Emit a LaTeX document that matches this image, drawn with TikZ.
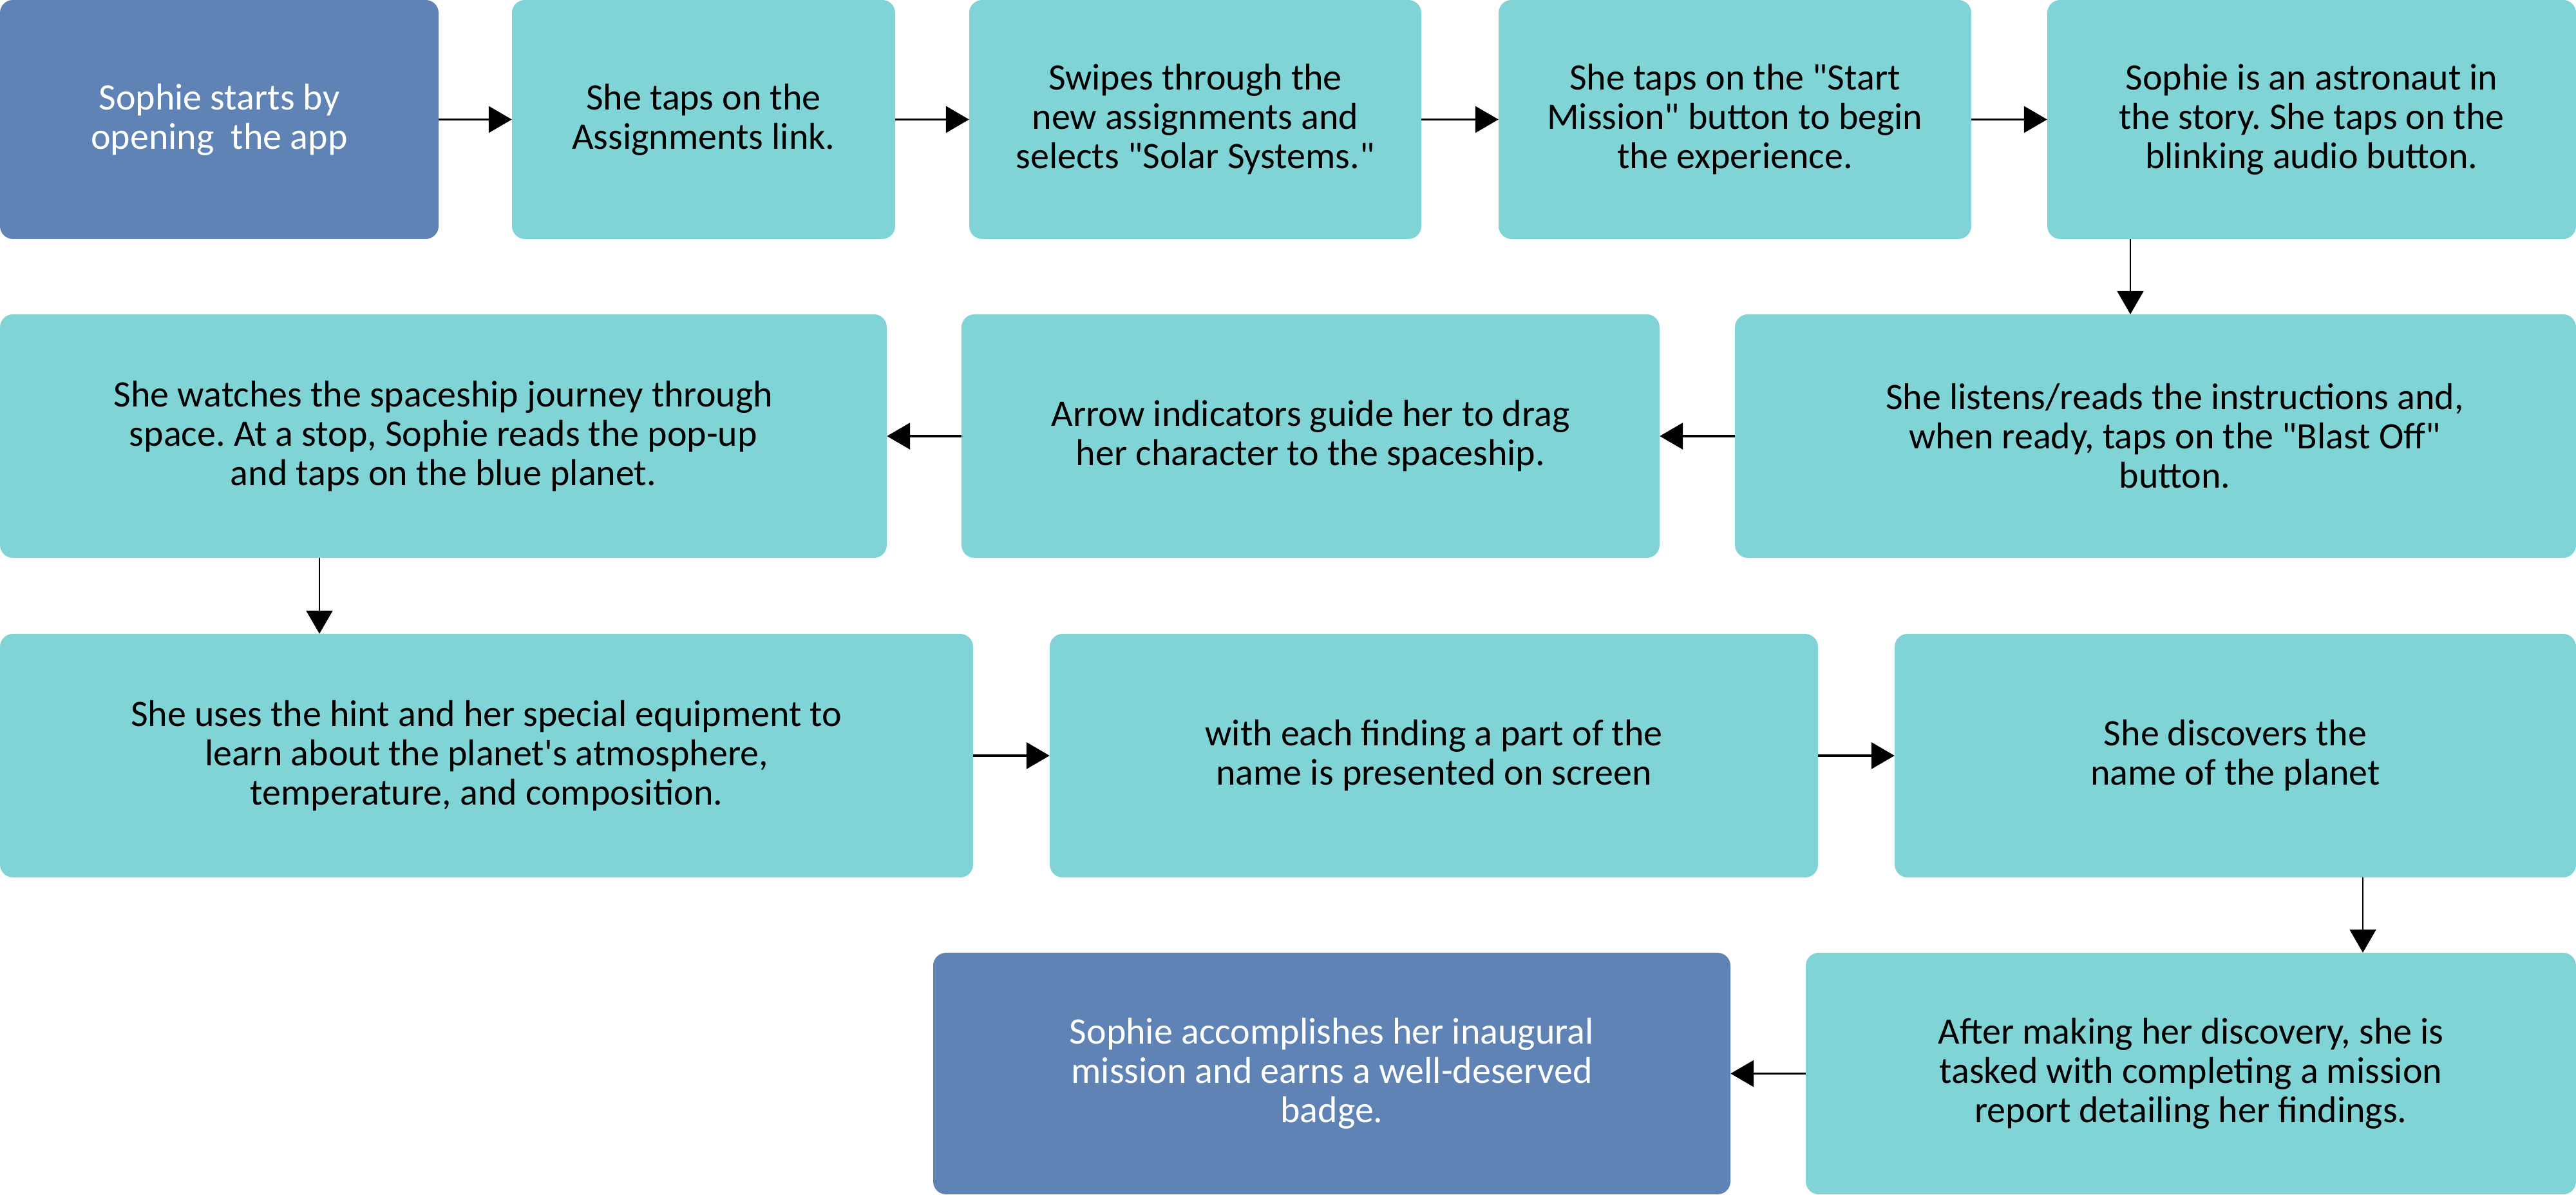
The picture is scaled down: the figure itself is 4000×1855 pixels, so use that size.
\documentclass[tikz,border=0pt]{standalone}
\usepackage{fontspec}
\setmainfont{Carlito}[Ligatures=TeXOff]
\usetikzlibrary{arrows.meta}
\definecolor{teal1}{HTML}{80D4D6}
\definecolor{blue1}{HTML}{5F83B5}
\tikzset{
  box/.style={rounded corners=20pt, inner sep=0pt, align=center, font=\fontsize{58}{61}\selectfont\frenchspacing},
  tealbox/.style={box, fill=teal1, text=black},
  bluebox/.style={box, fill=blue1, text=white},
  harrow/.style={line width=3.5pt, -{Triangle[length=36pt,width=41pt]}},
  varrow/.style={line width=2.5pt, -{Triangle[length=36pt,width=41pt]}}
}
\begin{document}
\begin{tikzpicture}[x=1pt,y=1pt]
\useasboundingbox (0,0) rectangle (4000,1855);
% row 1 (centre y = 1855-185.5)
\node[bluebox, minimum width=681pt, minimum height=371pt] (b1) at (340.5,1669.5) {Sophie starts by\\opening~~the app};
\node[tealbox, minimum width=595pt, minimum height=371pt] (b2) at (1092.5,1669.5) {She taps on the\\Assignments link.};
\node[tealbox, minimum width=702pt, minimum height=371pt] (b3) at (1856,1669.5) {Swipes through the\\new assignments and\\selects "Solar Systems."};
\node[tealbox, minimum width=734pt, minimum height=371pt] (b4) at (2694,1669.5) {She taps on the "Start\\Mission" button to begin\\the experience.};
\node[tealbox, minimum width=821pt, minimum height=371pt] (b5) at (3589.5,1669.5) {Sophie is an astronaut in\\the story. She taps on the\\blinking audio button.};
% row 2 (centre y = 1855-677)
\node[tealbox, minimum width=1377pt, minimum height=378pt] (b6) at (688.5,1178) {She watches the spaceship journey through\\space. At a stop, Sophie reads the pop-up\\and taps on the blue planet.};
\node[tealbox, minimum width=1084pt, minimum height=378pt] (b7) at (2035,1178) {Arrow indicators guide her to drag\\her character to the spaceship.};
\node[tealbox, minimum width=1306pt, minimum height=378pt] (b8) at (3347,1178) {\hspace*{60pt}She listens/reads the instructions and,\\\hspace*{60pt}when ready, taps on the "Blast Off"\\\hspace*{60pt}button.};
% row 3 (centre y = 1855-1173)
\node[tealbox, minimum width=1511pt, minimum height=378pt] (b9) at (755.5,682) {She uses the hint and her special equipment to\\learn about the planet's atmosphere,\\temperature, and composition.};
\node[tealbox, minimum width=1193pt, minimum height=378pt] (b10) at (2226.5,682) {with each finding a part of the\\name is presented on screen};
\node[tealbox, minimum width=1058pt, minimum height=378pt] (b11) at (3471,682) {She discovers the\\name of the planet};
% row 4 (centre y = 1855-1666.5)
\node[bluebox, minimum width=1238pt, minimum height=375pt] (b12) at (2068,188.5) {Sophie accomplishes her inaugural\\mission and earns a well-deserved\\badge.};
\node[tealbox, minimum width=1196pt, minimum height=375pt] (b13) at (3402,188.5) {After making her discovery, she is\\tasked with completing a mission\\report detailing her findings.};
% columns of the vertical connectors
\coordinate (c1) at (3308,0);
\coordinate (c2) at (496,0);
\coordinate (c3) at (3669,0);
% connectors
\draw[harrow] (b1) -- (b2);
\draw[harrow] (b2) -- (b3);
\draw[harrow] (b3) -- (b4);
\draw[harrow] (b4) -- (b5);
\draw[varrow] (b5.south -| c1) -- (b8.north -| c1);
\draw[harrow] (b8) -- (b7);
\draw[harrow] (b7) -- (b6);
\draw[varrow] (b6.south -| c2) -- (b9.north -| c2);
\draw[harrow] (b9) -- (b10);
\draw[harrow] (b10) -- (b11);
\draw[varrow] (b11.south -| c3) -- (b13.north -| c3);
\draw[harrow] (b13) -- (b12);
\end{tikzpicture}
\end{document}
